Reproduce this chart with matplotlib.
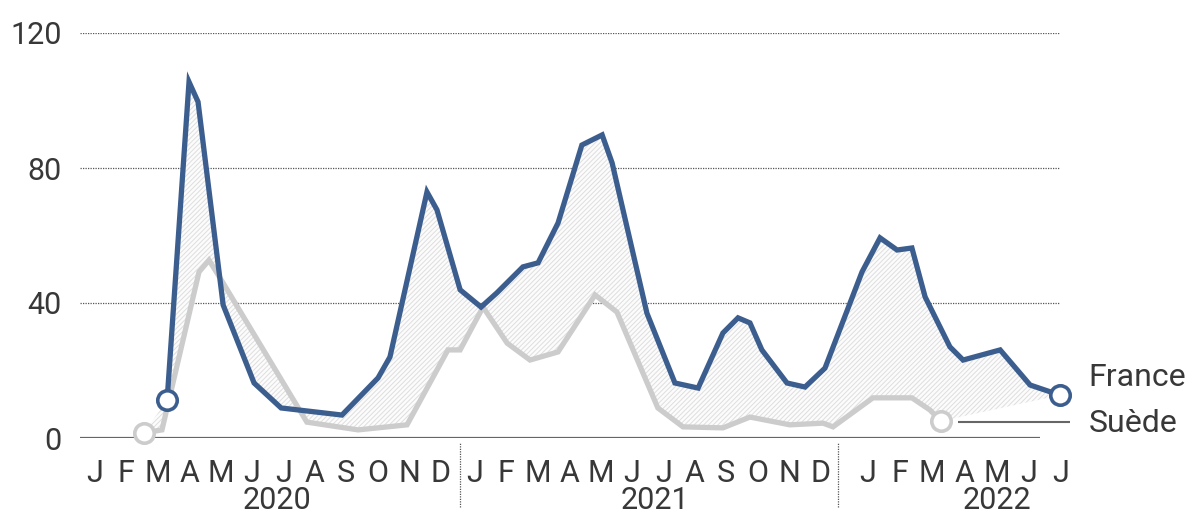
import matplotlib.pyplot as plt
import numpy as np

# x = months counted from January 2020 (0 = J of 2020)
france_x = [2.24, 2.92, 3.20, 3.98, 4.94, 5.78, 7.67, 8.79, 9.16, 10.31,
            10.62, 11.34, 11.99, 12.48, 13.29, 13.76, 14.38, 15.12, 15.75, 16.06,
            17.14, 18.01, 18.73, 19.50, 19.97, 20.34, 20.71, 21.49, 22.05, 22.67,
            23.82, 24.38, 24.91, 25.37, 25.78, 26.55, 26.96, 28.11, 29.04, 29.97]
france_y = [11.3, 105.5, 99.6, 39.4, 16.3, 8.9, 6.8, 17.8, 24.0, 72.9,
            67.6, 43.9, 38.8, 43.0, 50.7, 51.9, 63.7, 86.8, 89.8, 81.5,
            37.0, 16.3, 14.8, 31.1, 35.6, 34.1, 26.1, 16.3, 15.1, 20.7,
            49.2, 59.3, 55.7, 56.3, 41.8, 27.0, 23.1, 26.1, 15.7, 12.7]

suede_x = [1.52, 2.08, 3.23, 3.54, 3.98, 6.58, 8.17, 9.69, 10.96, 11.34,
           12.05, 12.80, 13.51, 14.38, 15.53, 16.21, 17.48, 18.26, 19.50, 20.34,
           21.58, 22.61, 22.92, 24.16, 25.37, 25.93, 26.27]
suede_y = [1.5, 2.4, 49.2, 52.7, 45.9, 4.7, 2.4, 3.9, 26.1, 26.1,
           38.8, 28.1, 23.1, 25.5, 42.4, 37.3, 8.9, 3.3, 3.0, 6.2,
           3.9, 4.4, 3.3, 11.9, 11.9, 8.3, 5.0]

months = ['J', 'F', 'M', 'A', 'M', 'J', 'J', 'A', 'S', 'O', 'N', 'D']
years = ['2020', '2021', '2022']
yticks = [0, 40, 80, 120]

blue = '#3c5e8e'
grey = '#cccccc'
txt = '#383838'
fs = 22

plt.rcParams['font.family'] = ['Roboto', 'DejaVu Sans']
plt.rcParams['hatch.linewidth'] = 0.7

fig = plt.figure(figsize=(11.97, 5.18), dpi=100)
ax = fig.add_axes([80 / 1197, 80 / 518, 990 / 1197, 405 / 518])
ax.set_xlim(-15 / 32.2, 975 / 32.2)
ax.set_ylim(0, 120)
for s in ax.spines.values():
    s.set_visible(False)

# grid + baseline
ax.hlines(yticks[1:], -0.47, 29.97, colors='#555555', linestyles=(0, (1, 1)), lw=0.9, zorder=1)
ax.hlines(0, -0.47, 29.35, colors='#666666', lw=1.6, zorder=2)

# hatched area between the two curves
up_x = [suede_x[0]] + france_x
up_y = [suede_y[0]] + france_y
lo_x = suede_x + [france_x[-1]]
lo_y = suede_y + [france_y[-1]]
gx = np.union1d(up_x, lo_x)
ax.fill_between(gx, np.interp(gx, lo_x, lo_y), np.interp(gx, up_x, up_y),
                facecolor='#fcfcfc', edgecolor='#dedede', hatch='/' * 7, linewidth=0, zorder=2)

ax.plot(suede_x, suede_y, color=grey, lw=3.8, solid_joinstyle='miter', zorder=3)
ax.plot(france_x, france_y, color=blue, lw=3.8, solid_joinstyle='miter', zorder=4)

for xs, ys, c in [(suede_x, suede_y, grey), (france_x, france_y, blue)]:
    ax.plot([xs[0], xs[-1]], [ys[0], ys[-1]], 'o', ms=14, mfc='white', mec=c, mew=2.6,
            zorder=5, clip_on=False)

# leader line for Suède
ax.hlines(suede_y[-1] - 0.3, 26.8, 30.28, colors='#666666', lw=1.5, clip_on=False)
ax.text(30.85, 17.8, 'France', fontsize=fs + 1, color=txt, va='center', ha='left', clip_on=False)
ax.text(30.85, 4.4, 'Suède', fontsize=fs + 1, color=txt, va='center', ha='left', clip_on=False)

# month ticks, per year
starts = [0.0, 11.8, 24.0]
steps = [0.975, 0.975, 1.0]
counts = [12, 12, 7]
pos, labs = [], []
for st, sp, n in zip(starts, steps, counts):
    for i in range(n):
        pos.append(st + i * sp)
        labs.append(months[i])
ax.set_xticks(pos, labs)
ax.set_yticks(yticks, [str(v) for v in yticks])
ax.tick_params(length=0, labelsize=fs, labelcolor=txt)
ax.tick_params(axis='x', pad=15)
ax.tick_params(axis='y', pad=13)

for x, yr in zip([5.65, 17.4, 28.0], years):
    ax.text(x, -18.5, yr, fontsize=fs, color=txt, ha='center', va='center', clip_on=False)
ax.vlines([11.34, 23.07], -20.4, -1.5, colors='#555555', linestyles=(0, (1, 1)), lw=0.9,
          clip_on=False)

fig.savefig('out.png', dpi=100)
